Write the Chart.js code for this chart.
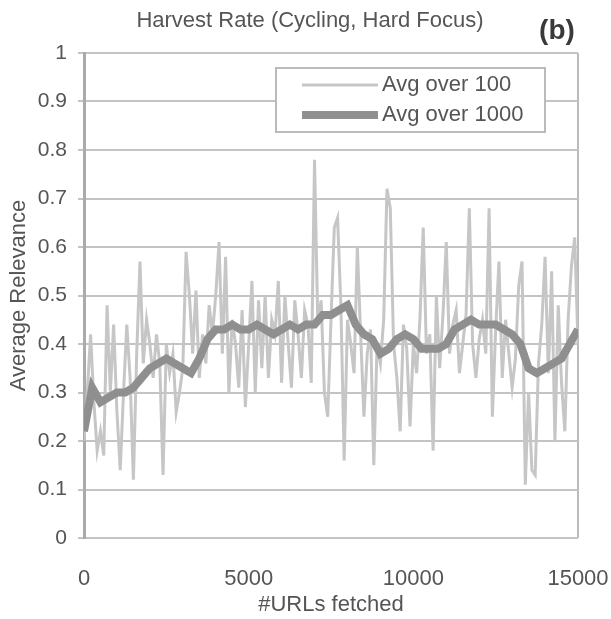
<!DOCTYPE html>
<html>
<head>
<meta charset="utf-8">
<title>Harvest Rate (Cycling, Hard Focus)</title>
<script src="https://cdn.jsdelivr.net/npm/chart.js@4.4.1/dist/chart.umd.min.js"></script>
<style>
  html, body { margin: 0; padding: 0; background: #fff; }
  #wrap { position: relative; width: 611px; height: 619px; }
</style>
</head>
<body>
<div id="wrap"><canvas id="myChart" width="611" height="619"></canvas></div>
<script>
const titleText = 'Harvest Rate (Cycling, Hard Focus)';
const panelTag = '(b)';
const xTitle = '#URLs fetched';
const yTitle = 'Average Relevance';
const xTickValues = [0, 5000, 10000, 15000];
const seriesNames = ['Avg over 100', 'Avg over 1000'];

// one reading every 100 URLs (0 .. 15000)
const step100 = 100;
const avg100 = [
  0.20, 0.30, 0.42, 0.28, 0.18, 0.22, 0.17, 0.48, 0.30, 0.44,
  0.26, 0.14, 0.30, 0.44, 0.33, 0.12, 0.38, 0.57, 0.36, 0.45,
  0.40, 0.33, 0.42, 0.36, 0.13, 0.40, 0.34, 0.38, 0.26, 0.30,
  0.35, 0.59, 0.50, 0.38, 0.51, 0.33, 0.42, 0.36, 0.48, 0.42,
  0.50, 0.61, 0.38, 0.58, 0.30, 0.45, 0.40, 0.31, 0.47, 0.27,
  0.40, 0.53, 0.30, 0.49, 0.35, 0.50, 0.33, 0.45, 0.42, 0.53,
  0.32, 0.50, 0.40, 0.31, 0.49, 0.42, 0.33, 0.47, 0.44, 0.32,
  0.78, 0.44, 0.49, 0.30, 0.25, 0.45, 0.64, 0.66, 0.48, 0.16,
  0.45, 0.40, 0.34, 0.60, 0.42, 0.25, 0.38, 0.43, 0.15, 0.40,
  0.36, 0.45, 0.72, 0.68, 0.40, 0.33, 0.22, 0.44, 0.39, 0.23,
  0.40, 0.34, 0.45, 0.64, 0.38, 0.42, 0.18, 0.50, 0.35, 0.46,
  0.61, 0.38, 0.44, 0.47, 0.34, 0.40, 0.46, 0.68, 0.40, 0.33,
  0.41, 0.45, 0.38, 0.68, 0.25, 0.43, 0.57, 0.33, 0.45, 0.38,
  0.31, 0.37, 0.52, 0.57, 0.11, 0.30, 0.14, 0.13, 0.36, 0.44,
  0.58, 0.34, 0.55, 0.20, 0.48, 0.32, 0.22, 0.45, 0.56, 0.62,
  0.40
];

// one reading every 250 URLs (0 .. 15000)
const step1000 = 250;
const avg1000 = [
  0.22, 0.31, 0.28, 0.29, 0.30, 0.30, 0.31, 0.33, 0.35, 0.36,
  0.37, 0.36, 0.35, 0.34, 0.37, 0.41, 0.43, 0.43, 0.44, 0.43,
  0.43, 0.44, 0.43, 0.42, 0.43, 0.44, 0.43, 0.44, 0.44, 0.46,
  0.46, 0.47, 0.48, 0.44, 0.42, 0.41, 0.38, 0.39, 0.41, 0.42,
  0.41, 0.39, 0.39, 0.39, 0.40, 0.43, 0.44, 0.45, 0.44, 0.44,
  0.44, 0.43, 0.42, 0.40, 0.35, 0.34, 0.35, 0.36, 0.37, 0.40,
  0.43
];

const textColor = '#555';
const fontFam = '"Liberation Sans", Arial, sans-serif';

// title, (b) tag and the boxed legend inside the plot
const decorations = {
  id: 'decorations',
  afterDraw(chart) {
    const ctx = chart.ctx;
    ctx.save();
    ctx.fillStyle = textColor;
    ctx.textBaseline = 'middle';
    ctx.textAlign = 'center';
    ctx.font = '22px ' + fontFam;
    ctx.fillText(titleText, 310, 21);
    ctx.font = 'bold 28px ' + fontFam;
    ctx.fillStyle = '#3a3a3a';
    ctx.fillText(panelTag, 557, 31);

    // legend box
    const bx = 276, by = 68, bw = 269, bh = 64;
    ctx.fillStyle = '#fff';
    ctx.fillRect(bx, by, bw, bh);
    ctx.strokeStyle = '#bbb';
    ctx.lineWidth = 2;
    ctx.strokeRect(bx, by, bw, bh);
    ctx.textAlign = 'left';
    ctx.font = '22px ' + fontFam;
    chart.data.datasets.forEach((ds, i) => {
      const y = by + 17 + i * 30;
      ctx.strokeStyle = ds.borderColor;
      ctx.lineWidth = ds.borderWidth;
      ctx.beginPath();
      ctx.moveTo(302, y);
      ctx.lineTo(378, y);
      ctx.stroke();
      ctx.fillStyle = textColor;
      ctx.fillText(ds.label, 382, y);
    });
    ctx.restore();
  }
};

let ctx = document.getElementById('myChart').getContext('2d');
window.myLine = new Chart(ctx, {
  type: 'line',
  data: {
    datasets: [{
      label: seriesNames[0],
      data: avg100.map((v, i) => ({ x: i * step100, y: v })),
      borderColor: '#c6c6c6',
      borderWidth: 3,
      pointRadius: 0,
      tension: 0,
      order: 2
    }, {
      label: seriesNames[1],
      data: avg1000.map((v, i) => ({ x: i * step1000, y: v })),
      borderColor: '#8f8f8f',
      borderWidth: 8,
      pointRadius: 0,
      tension: 0,
      order: 1
    }]
  },
  options: {
    responsive: false,
    animation: false,
    layout: { padding: { left: 0, right: 33, top: 53, bottom: 0 } },
    plugins: {
      legend: { display: false },
      title: { display: false },
      tooltip: { enabled: false }
    },
    scales: {
      x: {
        type: 'linear',
        min: 0,
        max: 15000,
        afterBuildTicks: (axis) => { axis.ticks = xTickValues.map(v => ({ value: v })); },
        afterFit: (axis) => { axis.height = 81; axis.paddingLeft = 0; axis.paddingRight = 0; },
        grid: {
          drawTicks: false,
          color: (c) => (c.tick && c.tick.value === 15000 ? '#bbb' : 'rgba(0,0,0,0)'),
          lineWidth: 2
        },
        border: { display: false },
        ticks: {
          padding: 28,
          color: textColor,
          maxRotation: 0,
          font: { family: fontFam, size: 22 },
          callback: (v) => String(v)
        },
        title: {
          display: true,
          text: xTitle,
          color: textColor,
          font: { family: fontFam, size: 22 },
          padding: { top: 0, bottom: 1 }
        }
      },
      y: {
        min: 0,
        max: 1,
        afterFit: (axis) => { axis.width = 84; axis.paddingTop = 0; axis.paddingBottom = 0; },
        grid: { drawTicks: true, tickLength: 6, color: '#c4c4c4', lineWidth: 2 },
        border: { display: true, color: '#aaa', width: 3 },
        ticks: {
          stepSize: 0.1,
          padding: 11,
          color: textColor,
          font: { family: fontFam, size: 21 },
          callback: (v) => String(+v.toFixed(1))
        },
        title: {
          display: true,
          text: yTitle,
          color: textColor,
          font: { family: fontFam, size: 22 },
          padding: { top: 6, bottom: 0 }
        }
      }
    }
  },
  plugins: [decorations]
});
</script>
</body>
</html>
